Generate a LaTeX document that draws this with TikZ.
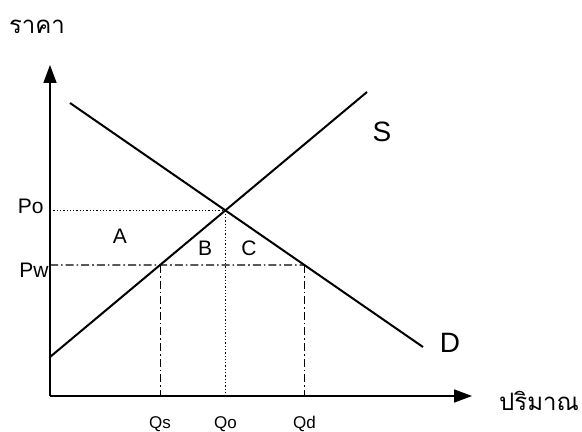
\documentclass[tikz,border=0pt]{standalone}
\usepackage{fontspec}
\setmainfont{Liberation Sans}
\newfontfamily\thaifont[Script=Thai]{Loma}
\usetikzlibrary{arrows.meta}

\begin{document}
\begin{tikzpicture}[x=0.5pt,y=-0.5pt,
  axis/.style={line width=0.8pt,-{Triangle[length=9pt,width=6.5pt]}},
  curve/.style={line width=1pt},
  dashdot/.style={line width=0.55pt,dash pattern=on 4pt off 1.5pt on 0.8pt off 1.5pt},
  dotline/.style={line width=0.65pt,densely dotted},
  lbl/.style={inner sep=0pt,font=\fontsize{10.5}{12}\selectfont},
  big/.style={inner sep=0pt,font=\fontsize{14}{16}\selectfont},
  small/.style={inner sep=0pt,font=\fontsize{8.5}{10}\selectfont},
  thai/.style={inner sep=0pt,font=\thaifont\fontsize{12}{14}\selectfont}]
\useasboundingbox (0,0) rectangle (582,432);
% axes
\coordinate (O) at (50,396);
\coordinate (ytop) at (50,65);
\coordinate (xend) at (472,396);
\draw[axis] (O) -- (ytop);
\draw[axis] (O) -- (xend);
\node[thai] (price) at (37,27) {ราคา};
\node[thai] (qty) at (539,401) {ปริมาณ};
% supply and demand
\coordinate (s1) at (50,357);
\coordinate (s2) at (367,92);
\coordinate (d1) at (70,103);
\coordinate (d2) at (423,347);
\draw[curve] (s1) -- (s2);
\draw[curve] (d1) -- (d2);
\node[big] (S) at (382,132) {S};
\node[big] (D) at (450,343) {D};
% equilibrium and world price
\coordinate (E) at (intersection of s1--s2 and d1--d2);
\coordinate (pw) at (50,265);
\coordinate (pw2) at (500,265);
\coordinate (ps) at (intersection of pw--pw2 and s1--s2);
\coordinate (pd) at (intersection of pw--pw2 and d1--d2);
\draw[dotline] (O |- E) -- (E);
\draw[dotline] (E) -- (E |- O);
\draw[dashdot] (pw) -- (pd);
\draw[dashdot] (ps) -- (ps |- O);
\draw[dashdot] (pd) -- (pd |- O);
% labels
\node[lbl,anchor=east] (Po) at (44,206) {Po};
\node[lbl,anchor=east] (Pw) at (49,270) {Pw};
\node[lbl] (A) at (120,236) {A};
\node[lbl] (B) at (205,248) {B};
\node[lbl] (C) at (249,248) {C};
\node[small] (Qs) at (ps |- 0,424) {Qs};
\node[small] (Qo) at (E |- 0,424) {Qo};
\node[small] (Qd) at (pd |- 0,424) {Qd};
\end{tikzpicture}
\end{document}
